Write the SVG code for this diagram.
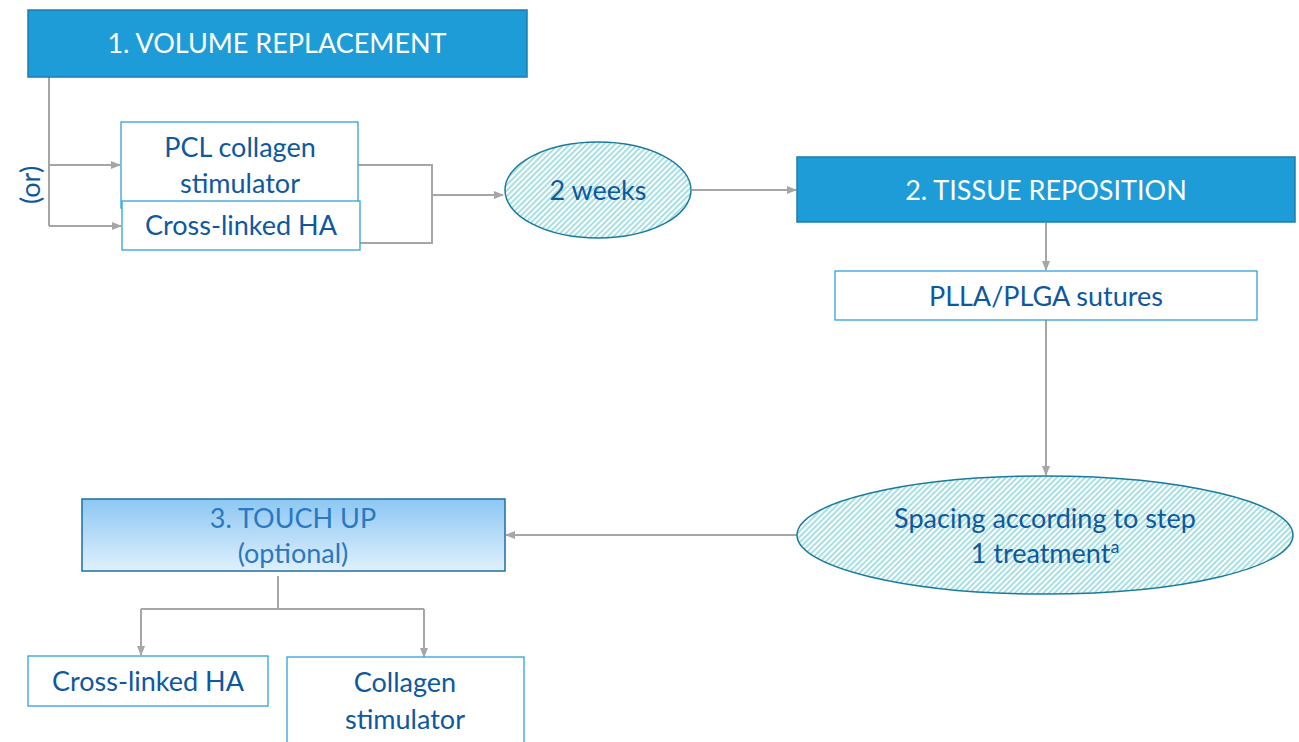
<svg xmlns="http://www.w3.org/2000/svg" width="1299" height="742" viewBox="0 0 1299 742">
<style>
.hdr{fill:#1E9CD8;stroke:#1B7DAE;stroke-width:1.5}
.wbox{fill:#fff;stroke:#2EA3DC;stroke-width:1.3}
.ell{fill:url(#hatch);stroke:#1A7A9E;stroke-width:1.5}
.t{font-family:Lato,"Open Sans","Liberation Sans",sans-serif;font-size:27px;text-anchor:middle}
.tw{fill:#fff}
.tb{fill:#0E58A0}
.tl{fill:#2A78C0}
.c{fill:none;stroke:#A6A6A6;stroke-width:2}
</style>
<defs>
<pattern id="hatch" patternUnits="userSpaceOnUse" width="4" height="4" patternTransform="rotate(45)">
<rect width="4" height="4" fill="#fff"/>
<line x1="1" y1="0" x2="1" y2="4" stroke="#7FD3D8" stroke-width="1.4"/>
</pattern>
<linearGradient id="g3" x1="0" y1="0" x2="0" y2="1">
<stop offset="0" stop-color="#8CC7F3"/>
<stop offset="1" stop-color="#E0F0FC"/>
</linearGradient>
<marker id="ar" markerWidth="10" markerHeight="10" refX="9" refY="5" orient="auto" markerUnits="userSpaceOnUse">
<path d="M0,1 L10,5 L0,9 z" fill="#A6A6A6"/>
</marker>
</defs>

<g id="connectors">
<path class="c" d="M49,77 V226"/>
<path class="c" d="M49,165 H120" marker-end="url(#ar)"/>
<path class="c" d="M49,226 H121" marker-end="url(#ar)"/>
<path class="c" d="M358,165 H432 V243 H360"/>
<path class="c" d="M432,195 H503" marker-end="url(#ar)"/>
<path class="c" d="M692,190 H796" marker-end="url(#ar)"/>
<path class="c" d="M1046,223 V270" marker-end="url(#ar)"/>
<path class="c" d="M1046,320 V475" marker-end="url(#ar)"/>
<path class="c" d="M797,535 H506" marker-end="url(#ar)"/>
<path class="c" d="M278,576 V609 M141,609 H424"/>
<path class="c" d="M141,609 V655" marker-end="url(#ar)"/>
<path class="c" d="M424,609 V657" marker-end="url(#ar)"/>
</g>

<g id="n1">
<rect class="hdr" x="28" y="10" width="499" height="67"/>
<text class="t tw" x="277" y="53">1. VOLUME REPLACEMENT</text>
</g>

<g id="or">
<text class="t tb" transform="translate(40,185) rotate(-90)" y="0">(or)</text>
</g>

<g id="pcl">
<rect class="wbox" x="121" y="122" width="237" height="86"/>
<text class="t tb" x="240" y="157">PCL collagen</text>
<text class="t tb" x="240" y="193">stimulator</text>
</g>

<g id="cha1">
<rect class="wbox" x="122" y="201" width="238" height="49"/>
<text class="t tb" x="241" y="235">Cross-linked HA</text>
</g>

<g id="weeks">
<ellipse class="ell" cx="598" cy="190" rx="93" ry="48"/>
<text class="t tb" x="598" y="200">2 weeks</text>
</g>

<g id="n2">
<rect class="hdr" x="797" y="157" width="498" height="65"/>
<text class="t tw" x="1046" y="200">2. TISSUE REPOSITION</text>
</g>

<g id="plla">
<rect class="wbox" x="835" y="271" width="422" height="49"/>
<text class="t tb" x="1046" y="306">PLLA/PLGA sutures</text>
</g>

<g id="spacing">
<ellipse class="ell" cx="1045" cy="535" rx="248" ry="59"/>
<text class="t tb" x="1045" y="528">Spacing according to step</text>
<text class="t tb" x="1045" y="563">1 treatment<tspan font-size="18" dy="-10">a</tspan></text>
</g>

<g id="n3">
<rect x="82" y="499" width="423" height="72" fill="url(#g3)" stroke="#1F6E9F" stroke-width="1.5"/>
<text class="t tl" x="293" y="528">3. TOUCH UP</text>
<text class="t tl" x="293" y="563">(optional)</text>
</g>

<g id="cha2">
<rect class="wbox" x="28" y="656" width="240" height="50"/>
<text class="t tb" x="148" y="691">Cross-linked HA</text>
</g>

<g id="collagen">
<rect class="wbox" x="287" y="657" width="237" height="90"/>
<text class="t tb" x="405" y="692">Collagen</text>
<text class="t tb" x="405" y="729">stimulator</text>
</g>
</svg>
